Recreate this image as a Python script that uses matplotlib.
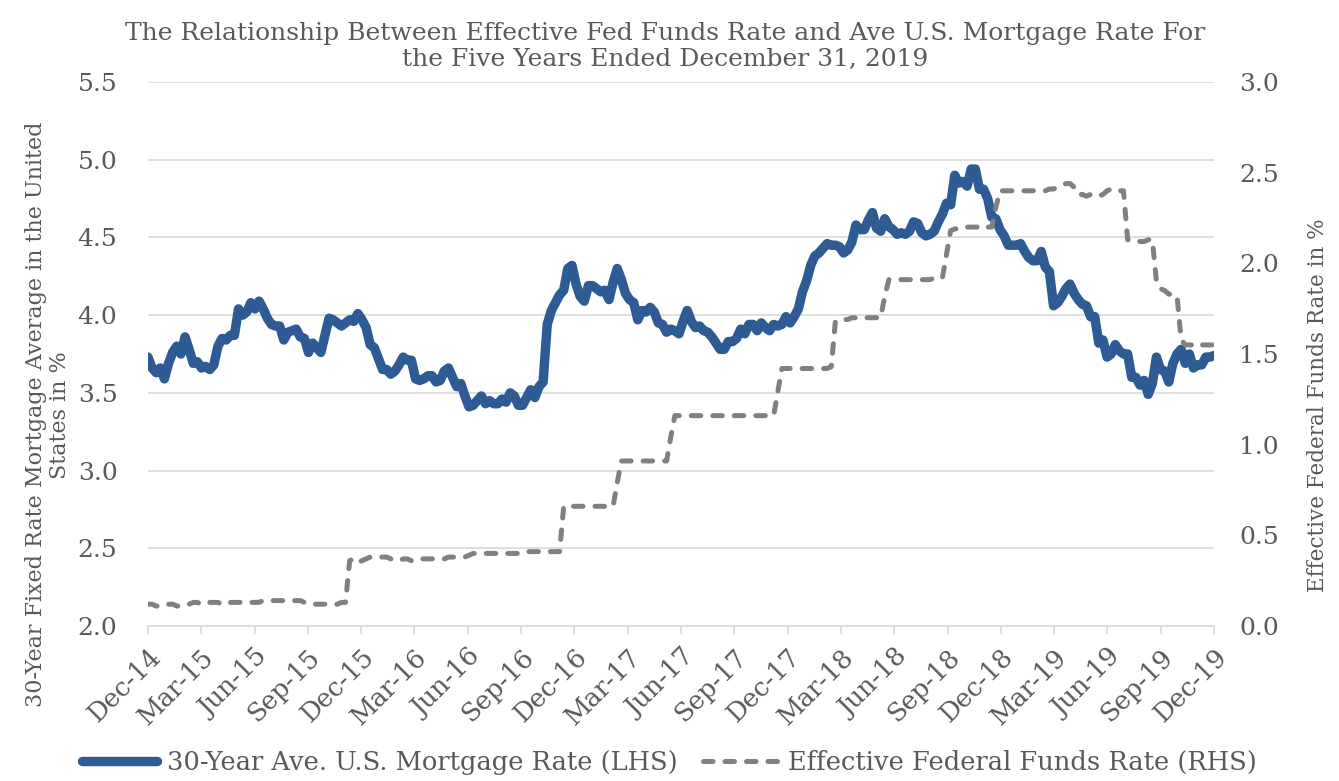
import numpy as np
import matplotlib
matplotlib.use('Agg')
import matplotlib.pyplot as plt

# weekly 30-year mortgage rate (%), Jan 2015 - Dec 2019
mortgage_2015 = [3.73, 3.66, 3.63, 3.66, 3.59, 3.69, 3.76, 3.80, 3.75, 3.86, 3.78, 3.69,
                 3.70, 3.66, 3.67, 3.65, 3.68, 3.80, 3.85, 3.84, 3.87, 3.87, 4.04, 4.00, 4.02,
                 4.08, 4.04, 4.09, 4.04, 3.98, 3.94, 3.93, 3.93, 3.84, 3.89, 3.90, 3.91, 3.86,
                 3.85, 3.76, 3.82, 3.79, 3.76, 3.87, 3.98, 3.97, 3.95, 3.93, 3.95, 3.97, 3.96, 4.01]
mortgage_2016 = [3.97, 3.92, 3.81, 3.79, 3.72, 3.65, 3.65, 3.62, 3.64, 3.68, 3.73, 3.71, 3.71,
                 3.59, 3.58, 3.59, 3.61, 3.61, 3.57, 3.58, 3.64, 3.66, 3.60, 3.54, 3.56, 3.48,
                 3.41, 3.42, 3.45, 3.48, 3.43, 3.45, 3.43, 3.43, 3.46, 3.44, 3.50, 3.48, 3.42,
                 3.42, 3.47, 3.52, 3.47, 3.54, 3.57, 3.94, 4.03, 4.08, 4.13, 4.16, 4.30, 4.32]
mortgage_2017 = [4.20, 4.12, 4.09, 4.19, 4.19, 4.17, 4.15, 4.16, 4.10, 4.21, 4.30, 4.23, 4.14,
                 4.10, 4.08, 3.97, 4.03, 4.02, 4.05, 4.02, 3.95, 3.94, 3.89, 3.91, 3.90, 3.88,
                 3.96, 4.03, 3.96, 3.92, 3.93, 3.90, 3.89, 3.86, 3.82, 3.78, 3.78, 3.83, 3.83,
                 3.85, 3.91, 3.88, 3.94, 3.94, 3.90, 3.95, 3.92, 3.90, 3.94, 3.93, 3.94, 3.99]
mortgage_2018 = [3.95, 3.99, 4.04, 4.15, 4.22, 4.32, 4.38, 4.40, 4.43, 4.46, 4.45, 4.45, 4.44,
                 4.40, 4.42, 4.47, 4.58, 4.55, 4.55, 4.61, 4.66, 4.56, 4.54, 4.62, 4.57, 4.55,
                 4.52, 4.53, 4.52, 4.54, 4.60, 4.59, 4.53, 4.51, 4.52, 4.54, 4.60, 4.65, 4.72,
                 4.71, 4.90, 4.85, 4.86, 4.83, 4.94, 4.94, 4.81, 4.81, 4.75, 4.63, 4.62, 4.55]
mortgage_2019 = [4.51, 4.45, 4.45, 4.45, 4.46, 4.41, 4.37, 4.35, 4.35, 4.41, 4.31, 4.28, 4.06,
                 4.08, 4.12, 4.17, 4.20, 4.14, 4.10, 4.07, 4.06, 3.99, 3.99, 3.82, 3.84, 3.73,
                 3.75, 3.81, 3.77, 3.75, 3.75, 3.60, 3.60, 3.55, 3.58, 3.49, 3.56, 3.73, 3.65,
                 3.64, 3.57, 3.69, 3.75, 3.78, 3.69, 3.75, 3.66, 3.68, 3.68, 3.73, 3.73, 3.74]

# weekly effective fed funds rate (%), same weeks
fed_2015 = [0.12, 0.12, 0.11, 0.11, 0.11, 0.12, 0.12, 0.11, 0.11, 0.12, 0.12, 0.13,
            0.13, 0.12, 0.12, 0.13, 0.13, 0.13, 0.12, 0.12, 0.13, 0.13, 0.13, 0.13, 0.13,
            0.13, 0.13, 0.13, 0.14, 0.14, 0.14, 0.14, 0.14, 0.14, 0.14, 0.14, 0.14, 0.14,
            0.13, 0.13, 0.12, 0.12, 0.12, 0.12, 0.12, 0.12, 0.12, 0.13, 0.13, 0.36, 0.37, 0.35]
fed_2016 = [0.36, 0.37, 0.38, 0.38, 0.38, 0.38, 0.38, 0.37, 0.36, 0.36, 0.37, 0.37, 0.36,
            0.37, 0.37, 0.37, 0.37, 0.37, 0.37, 0.37, 0.37, 0.38, 0.38, 0.38, 0.38, 0.38,
            0.39, 0.40, 0.40, 0.40, 0.40, 0.40, 0.40, 0.40, 0.40, 0.40, 0.40, 0.40, 0.40,
            0.41, 0.41, 0.41, 0.41, 0.41, 0.41, 0.41, 0.41, 0.41, 0.41, 0.66, 0.66, 0.66]
fed_2017 = [0.66, 0.66, 0.66, 0.66, 0.66, 0.66, 0.66, 0.66, 0.66, 0.66, 0.79, 0.91, 0.91,
            0.91, 0.91, 0.91, 0.91, 0.91, 0.91, 0.91, 0.91, 0.91, 0.91, 1.04, 1.16, 1.16,
            1.16, 1.16, 1.16, 1.16, 1.16, 1.16, 1.16, 1.16, 1.16, 1.16, 1.16, 1.16, 1.16,
            1.16, 1.16, 1.16, 1.16, 1.16, 1.16, 1.16, 1.16, 1.16, 1.16, 1.29, 1.42, 1.42]
fed_2018 = [1.42, 1.42, 1.42, 1.42, 1.42, 1.42, 1.42, 1.42, 1.42, 1.42, 1.43, 1.68, 1.68,
            1.69, 1.69, 1.70, 1.70, 1.70, 1.70, 1.70, 1.70, 1.70, 1.70, 1.82, 1.91, 1.91,
            1.91, 1.91, 1.91, 1.91, 1.91, 1.91, 1.91, 1.91, 1.91, 1.92, 1.92, 1.92, 2.05,
            2.18, 2.19, 2.19, 2.19, 2.20, 2.20, 2.20, 2.20, 2.21, 2.20, 2.20, 2.31, 2.40]
fed_2019 = [2.40, 2.40, 2.40, 2.40, 2.40, 2.40, 2.40, 2.40, 2.40, 2.40, 2.40, 2.41, 2.41,
            2.42, 2.43, 2.44, 2.44, 2.42, 2.38, 2.38, 2.37, 2.38, 2.38, 2.37, 2.38, 2.40,
            2.41, 2.40, 2.40, 2.40, 2.13, 2.13, 2.13, 2.12, 2.12, 2.13, 2.13, 1.90, 1.86,
            1.85, 1.83, 1.83, 1.82, 1.58, 1.55, 1.55, 1.55, 1.56, 1.55, 1.55, 1.55, 1.55]

mortgage = mortgage_2015 + mortgage_2016 + mortgage_2017 + mortgage_2018 + mortgage_2019
fed_funds = fed_2015 + fed_2016 + fed_2017 + fed_2018 + fed_2019

tick_labels = ['Dec-14', 'Mar-15', 'Jun-15', 'Sep-15', 'Dec-15', 'Mar-16', 'Jun-16',
               'Sep-16', 'Dec-16', 'Mar-17', 'Jun-17', 'Sep-17', 'Dec-17', 'Mar-18',
               'Jun-18', 'Sep-18', 'Dec-18', 'Mar-19', 'Jun-19', 'Sep-19', 'Dec-19']
left_ticks = [2.0, 2.5, 3.0, 3.5, 4.0, 4.5, 5.0, 5.5]
right_ticks = [0.0, 0.5, 1.0, 1.5, 2.0, 2.5, 3.0]

title = ('The Relationship Between Effective Fed Funds Rate and Ave U.S. Mortgage Rate For\n'
         'the Five Years Ended December 31, 2019')

BLUE = '#2e5b93'
GRAY = '#808080'
TEXT = '#595959'
GRID = '#d9d9d9'
FONT = 'DejaVu Serif'

plt.rcParams['font.family'] = FONT

fig = plt.figure(figsize=(13.39, 7.81), dpi=100)
ax = fig.add_axes([0.1105, 0.1985, 0.7962, 0.6965])
ax2 = ax.twinx()

x = np.arange(len(mortgage))
l1, = ax.plot(x, mortgage, color=BLUE, lw=6.8, solid_capstyle='round', solid_joinstyle='round',
              label='30-Year Ave. U.S. Mortgage Rate (LHS)')
l2, = ax2.plot(x, fed_funds, color=GRAY, lw=3.6, dashes=(1.9, 2.4), dash_capstyle='round',
               label='Effective Federal Funds Rate (RHS)')

ax.set_xlim(0, len(mortgage) - 1)
ax.set_ylim(2.0, 5.5)
ax2.set_ylim(0.0, 3.0)

ax.set_yticks(left_ticks)
ax.set_yticklabels(['%.1f' % v for v in left_ticks])
ax2.set_yticks(right_ticks)
ax2.set_yticklabels(['%.1f' % v for v in right_ticks])

ax.set_xticks(np.linspace(0, len(mortgage) - 1, len(tick_labels)))
ax.set_xticklabels(tick_labels, rotation=45, ha='right', rotation_mode='anchor')

ax.yaxis.grid(True, color=GRID, lw=1.2)
ax.set_axisbelow(True)
for a in (ax, ax2):
    for side in ('top', 'left', 'right'):
        a.spines[side].set_visible(False)
    a.spines['bottom'].set_color(GRID)
    a.spines['bottom'].set_linewidth(1.2)
ax2.spines['bottom'].set_visible(False)

ax.tick_params(axis='x', colors=GRID, length=6, width=1.2, pad=7, labelsize=18.5, labelcolor=TEXT)
ax.tick_params(axis='y', length=0, pad=22, labelsize=18, labelcolor=TEXT)
ax2.tick_params(axis='y', length=0, pad=18, labelsize=18, labelcolor=TEXT)

fig.text(0.036, 0.469, '30-Year Fixed Rate Mortgage Average in the United\nStates in %',
         rotation=90, ha='center', va='center', multialignment='center',
         fontsize=16, color=TEXT, linespacing=1.1)
fig.text(0.984, 0.481, 'Effective Federal Funds Rate in %', rotation=90,
         ha='center', va='center', fontsize=15.5, color=TEXT)

fig.text(0.497, 0.972, title, ha='center', va='top', fontsize=18, color=TEXT, linespacing=1.15)

fig.legend(handles=[l1, l2], loc='lower center', bbox_to_anchor=(0.5, -0.022), ncol=2,
           frameon=False, fontsize=18.5, handlelength=2.9, handletextpad=0.4,
           columnspacing=1.0, labelcolor=TEXT)

fig.savefig('out.png', dpi=100)
